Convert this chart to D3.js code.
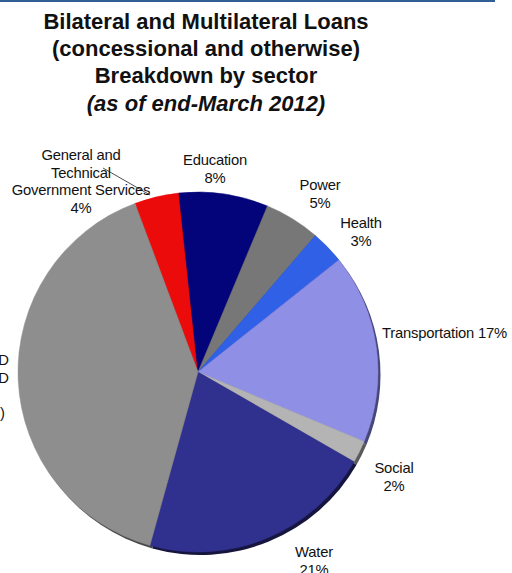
<!DOCTYPE html>
<html>
<head>
<meta charset="utf-8">
<script src="https://cdn.jsdelivr.net/npm/d3@7"></script>
<style>
  html, body { margin: 0; padding: 0; background: #fff; }
  svg { display: block; font-family: "Liberation Sans", Arial, Helvetica, sans-serif; }
</style>
</head>
<body>
<svg id="chart" width="512" height="573"></svg>
<script>
// Sector shares of bilateral and multilateral loans (%), clockwise from the red slice
const sectors = ["General and Technical Government Services", "Education", "Power", "Health",
                 "Transportation", "Social", "Water", "Other"];
const shares = [4, 8, 5, 3, 17, 2, 21, 40];
const colors = ["#ec0b0b", "#04047a", "#777777", "#3060e6", "#8f8fe6", "#b4b4b4", "#30308f", "#8e8e8e"];
const rimColors = ["#8a0606", "#02023c", "#3c3c3c", "#182f70", "#464678", "#5a5a5a", "#15153e", "#484848"];

const titleLines = ["Bilateral and Multilateral Loans", "(concessional and otherwise)",
                    "Breakdown by sector", "(as of end-March 2012)"];

// Slice labels: text lines and anchor point
const labels = [
  { lines: ["General and", "Technical", "Government Services", "4%"], x: 81, y: 160, anchor: "middle" },
  { lines: ["Education", "8%"], x: 215, y: 165, anchor: "middle" },
  { lines: ["Power", "5%"], x: 320, y: 190, anchor: "middle" },
  { lines: ["Health", "3%"], x: 361, y: 228, anchor: "middle" },
  { lines: ["Transportation 17%"], x: 382, y: 338, anchor: "start" },
  { lines: ["Social", "2%"], x: 394, y: 473, anchor: "middle" },
  { lines: ["Water", "21%"], x: 314, y: 557, anchor: "middle" }
];
// Label of the large grey slice, set against the left edge
const otherLines = ["Multi-sector / OPEC FUND", "Program Loans, KFAED", "", "(40%)"];
const otherX = [9, 9, 9, 5];

const svg = d3.select("#chart");

// top rule
svg.append("line")
  .attr("x1", 0).attr("x2", 495).attr("y1", 1).attr("y2", 1)
  .attr("stroke", "#2f5f94").attr("stroke-width", 2);

// title
const titleY = [29, 56, 83, 111];
titleLines.forEach((t, i) => {
  svg.append("text")
    .attr("x", 206).attr("y", titleY[i])
    .attr("text-anchor", "middle")
    .attr("font-size", 22)
    .attr("font-weight", "bold")
    .attr("font-style", i === 3 ? "italic" : "normal")
    .attr("fill", "#111")
    .text(t);
});

const cx = 198, cy = 372, r = 180;
const deg = Math.PI / 180;

const pie = d3.pie().sort(null).value(d => d)
  .startAngle(-20.5 * deg).endAngle(339.5 * deg);
const arcs = pie(shares);
const arc = d3.arc().innerRadius(0).outerRadius(r);

// darker rim underneath gives the lower-right edge depth
const rim = svg.append("g").attr("transform", `translate(${cx + 2.5},${cy + 3})`);
rim.selectAll("path").data(arcs).join("path")
  .attr("d", arc)
  .attr("fill", (d, i) => rimColors[i]);

const g = svg.append("g").attr("transform", `translate(${cx},${cy})`);
g.selectAll("path").data(arcs).join("path")
  .attr("d", arc)
  .attr("fill", (d, i) => colors[i])
  .attr("stroke", (d, i) => colors[i])
  .attr("stroke-width", 0.5);

// leader line for the small red slice
svg.append("line")
  .attr("x1", 103).attr("y1", 168).attr("x2", 150).attr("y2", 195)
  .attr("stroke", "#222").attr("stroke-width", 0.8);

// labels
labels.forEach(l => {
  const t = svg.append("text")
    .attr("text-anchor", l.anchor)
    .attr("font-size", 14.8)
    .attr("letter-spacing", -0.2)
    .attr("fill", "#111");
  l.lines.forEach((line, i) => {
    t.append("tspan").attr("x", l.x).attr("y", l.y + i * 17.5).text(line);
  });
});

const other = svg.append("text")
  .attr("text-anchor", "end")
  .attr("font-size", 14.8)
  .attr("fill", "#111");
otherLines.forEach((line, i) => {
  other.append("tspan").attr("x", otherX[i]).attr("y", 365 + i * 17.5).text(line);
});
</script>
</body>
</html>
